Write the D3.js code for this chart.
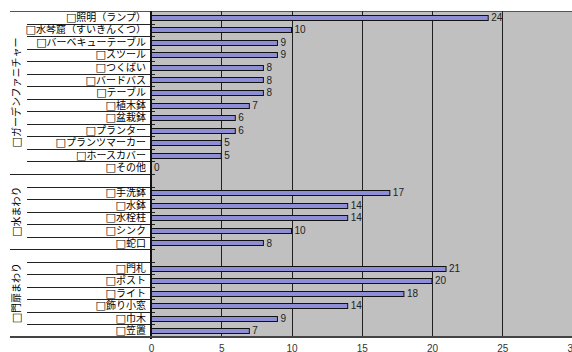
<!DOCTYPE html>
<html lang="ja">
<head>
<meta charset="utf-8">
<script src="https://cdn.jsdelivr.net/npm/d3@7"></script>
<style>
  body { margin: 0; background: #fff; }
  svg { display: block; }
</style>
</head>
<body>
<svg id="drawing_region"></svg>
<script>
// グループ名
const groupNames = ["ガーデンファニチャー", "水まわり", "門扉まわり"];

// 各グループの項目と値 (空欄は区切り用の空行)
const furnitureItems = ["照明（ランプ）", "水琴窟（すいきんくつ）", "バーベキューテーブル", "スツール", "つくばい",
    "バードバス", "テーブル", "植木鉢", "盆栽鉢", "プランター", "プランツマーカー", "ホースカバー", "その他"];
const furnitureValues = [24, 10, 9, 9, 8, 8, 8, 7, 6, 6, 5, 5, 0];

const waterItems = ["", "手洗鉢", "水鉢", "水栓柱", "シンク", "蛇口"];
const waterValues = [null, 17, 14, 14, 10, 8];

const gateItems = ["", "門札", "ポスト", "ライト", "飾り小窓", "巾木", "笠置"];
const gateValues = [null, 21, 20, 18, 14, 9, 7];

const xTicks = [0, 5, 10, 15, 20, 25, 30];

// 行データを作る
const groups = [
    { name: groupNames[0], items: furnitureItems, values: furnitureValues },
    { name: groupNames[1], items: waterItems, values: waterValues },
    { name: groupNames[2], items: gateItems, values: gateValues },
];
const rows = [];
groups.forEach((g, gi) => {
    g.items.forEach((label, i) => {
        rows.push({ id: rows.length, group: gi, label: label, value: g.values[i] });
    });
});

const config = {
    width: 572, height: 352,
    plotLeft: 151, plotTop: 11, plotBottom: 337, plotRightValue: 572.5,
};
const jpFont = '"Noto Sans CJK JP", sans-serif';
const boxFont = '"DejaVu Sans", sans-serif';
const numFont = '"Liberation Sans Narrow", "Liberation Sans", sans-serif';

const svg = d3.select('#drawing_region')
    .attr('width', config.width)
    .attr('height', config.height);

const xscale = d3.scaleLinear()
    .domain([0, 30])
    .range([config.plotLeft, config.plotRightValue]);

const yscale = d3.scaleBand()
    .domain(rows.map(d => d.id))
    .range([config.plotTop, config.plotBottom]);

// 背景
svg.append('rect')
    .attr('x', config.plotLeft)
    .attr('y', config.plotTop)
    .attr('width', config.width - config.plotLeft)
    .attr('height', config.plotBottom - config.plotTop)
    .attr('fill', '#c0c0c0');

// 上端の線
svg.append('line')
    .attr('x1', 10).attr('x2', config.width)
    .attr('y1', config.plotTop + 0.5).attr('y2', config.plotTop + 0.5)
    .attr('stroke', '#555').attr('stroke-width', 1);

// グリッド線
svg.append('g')
    .selectAll('line')
    .data(xTicks.filter(t => t > 0 && t < 30))
    .enter()
    .append('line')
    .attr('x1', d => Math.round(xscale(d)) + 0.5)
    .attr('x2', d => Math.round(xscale(d)) + 0.5)
    .attr('y1', config.plotTop)
    .attr('y2', config.plotBottom)
    .attr('stroke', '#202020')
    .attr('stroke-width', 1);

// X軸
const xaxis = d3.axisBottom(xscale)
    .tickValues(xTicks)
    .tickSize(0)
    .tickPadding(8);
const xaxis_group = svg.append('g')
    .attr('transform', `translate(0, ${config.plotBottom})`)
    .call(xaxis);
xaxis_group.select('.domain').remove();
xaxis_group.selectAll('text')
    .attr('font-family', numFont)
    .attr('font-size', 10)
    .attr('fill', '#333');

// 行の区切り線 (内側)
const boundaries = d3.range(1, rows.length);
svg.append('g')
    .selectAll('line')
    .data(boundaries.filter(i => rows[i].group === rows[i - 1].group))
    .enter()
    .append('line')
    .attr('x1', 27)
    .attr('x2', config.plotLeft + 4)
    .attr('y1', i => Math.round(yscale(i)) + 0.5)
    .attr('y2', i => Math.round(yscale(i)) + 0.5)
    .attr('stroke', '#222');

// グループの区切り線
svg.append('g')
    .selectAll('line')
    .data(boundaries.filter(i => rows[i].group !== rows[i - 1].group))
    .enter()
    .append('line')
    .attr('x1', 10)
    .attr('x2', config.plotLeft + 4)
    .attr('y1', i => Math.round(yscale(i)) + 0.5)
    .attr('y2', i => Math.round(yscale(i)) + 0.5)
    .attr('stroke', '#222');

// 項目ラベル (先頭の□は別フォント)
const labels = svg.append('g')
    .selectAll('text')
    .data(rows.filter(d => d.label !== ''))
    .enter()
    .append('text')
    .attr('x', 146)
    .attr('y', d => yscale(d.id) + yscale.bandwidth() / 2)
    .attr('dy', '0.36em')
    .attr('text-anchor', 'end')
    .attr('font-size', 10)
    .attr('fill', '#000');
labels.append('tspan')
    .attr('font-family', boxFont)
    .attr('font-size', 11)
    .text('□');
labels.append('tspan')
    .attr('font-family', jpFont)
    .text(d => d.label);

// グループラベル (縦書き)
groups.forEach((g, gi) => {
    const ids = rows.filter(r => r.group === gi).map(r => r.id);
    const y0 = yscale(ids[0]);
    const y1 = yscale(ids[ids.length - 1]) + yscale.bandwidth();
    const t = svg.append('text')
        .attr('transform', `translate(16, ${(y0 + y1) / 2}) rotate(-90)`)
        .attr('dy', '0.36em')
        .attr('text-anchor', 'middle')
        .attr('font-size', 10)
        .attr('fill', '#000');
    t.append('tspan').attr('font-family', boxFont).attr('font-size', 11).text('□');
    t.append('tspan').attr('font-family', jpFont).text(g.name);
});

// バー
const barRows = rows.filter(d => d.value !== null);
const barH = 5;
svg.append('g')
    .selectAll('rect')
    .data(barRows.filter(d => d.value > 0))
    .enter()
    .append('rect')
    .attr('x', xscale(0))
    .attr('y', d => Math.round(yscale(d.id) + yscale.bandwidth() / 2 - barH / 2) + 0.5)
    .attr('width', d => xscale(d.value) - xscale(0))
    .attr('height', barH)
    .attr('fill', '#8e8ed6')
    .attr('stroke', '#111')
    .attr('stroke-width', 1);

// 値ラベル
svg.append('g')
    .selectAll('text')
    .data(barRows)
    .enter()
    .append('text')
    .attr('x', d => xscale(d.value) + 3)
    .attr('y', d => yscale(d.id) + yscale.bandwidth() / 2)
    .attr('dy', '0.36em')
    .attr('font-family', numFont)
    .attr('font-size', 10)
    .attr('fill', '#222')
    .text(d => d.value);

// Y軸線と下端の線
svg.append('line')
    .attr('x1', xscale(0)).attr('x2', xscale(0))
    .attr('y1', config.plotTop).attr('y2', config.plotBottom + 2)
    .attr('stroke', '#111').attr('stroke-width', 2);
svg.append('line')
    .attr('x1', 10).attr('x2', config.width)
    .attr('y1', config.plotBottom).attr('y2', config.plotBottom)
    .attr('stroke', '#444').attr('stroke-width', 2);
</script>
</body>
</html>
